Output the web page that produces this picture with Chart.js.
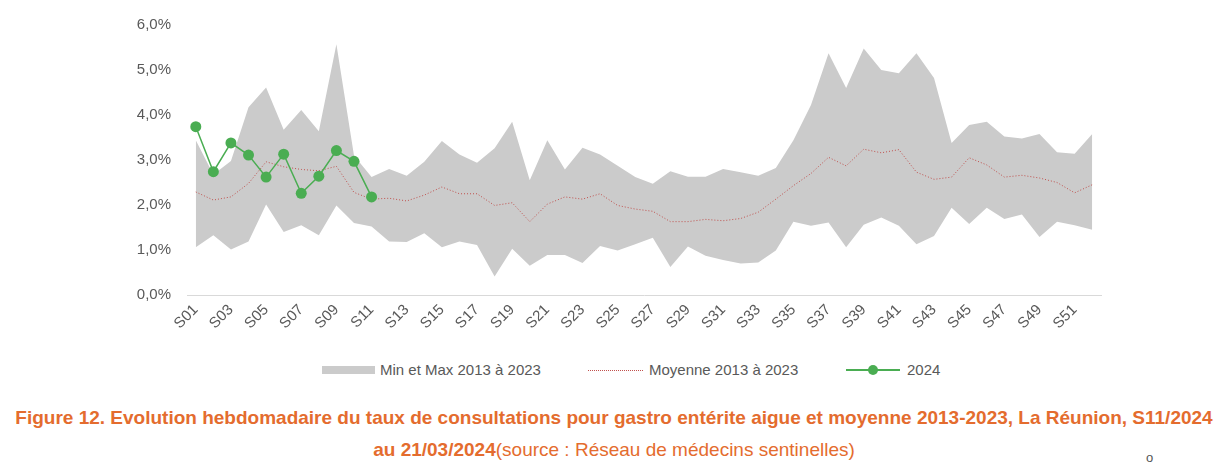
<!DOCTYPE html>
<html lang="fr">
<head>
<meta charset="UTF-8">
<title>Gastro-entérite La Réunion</title>
<script src="https://cdn.jsdelivr.net/npm/chart.js"></script>
<style>
  body { margin: 0; background: #fff; width: 1228px; height: 466px; position: relative; overflow: hidden;
         font-family: "Liberation Sans", Arial, sans-serif; }
  #wrap { position: absolute; left: 0; top: 0; width: 1228px; height: 350px; }
  .leg { position: absolute; font-size: 15px; line-height: 18px; top: 361px; color: #595959; white-space: nowrap; }
  .titre { position: absolute; left: 0; width: 1228px; text-align: center; color: #E46C2E;
           font-size: 19px; line-height: 22px; white-space: nowrap; }
  .titre b { font-weight: bold; }
</style>
</head>
<body>
<div id="wrap"><canvas id="graph" width="1228" height="350"></canvas></div>

<div style="position:absolute;left:322px;top:366px;width:53px;height:8px;background:#cbcbcb"></div>
<div class="leg" style="left:380px">Min et Max 2013 à 2023</div>
<div style="position:absolute;left:588px;top:370px;width:55px;border-top:1px dotted #c0504d"></div>
<div class="leg" style="left:649px">Moyenne 2013 à 2023</div>
<div style="position:absolute;left:846px;top:369px;width:54px;height:1.5px;background:#4aad52"></div>
<div style="position:absolute;left:868px;top:365px;width:10px;height:10px;border-radius:50%;background:#4aad52"></div>
<div class="leg" style="left:907px">2024</div>

<div class="titre" style="top:407px"><b>Figure 12. Evolution hebdomadaire du taux de consultations pour gastro entérite aigue et moyenne 2013-2023, La Réunion, S11/2024</b></div>
<div class="titre" style="top:439px"><b>au 21/03/2024</b>(source : Réseau de médecins sentinelles)</div>
<div style="position:absolute;left:1146px;top:451px;font-size:13px;line-height:14px;color:#555">o</div>

<script>
const semaines = [];
for (let i = 1; i <= 52; i++) semaines.push('S' + String(i).padStart(2, '0'));

const maxi = [3.44, 2.68, 2.98, 4.17, 4.61, 3.67, 4.11, 3.64, 5.57, 3.10, 2.62, 2.80, 2.65,
  2.96, 3.42, 3.12, 2.94, 3.26, 3.85, 2.55, 3.44, 2.79, 3.27, 3.12, 2.87, 2.62,
  2.47, 2.75, 2.63, 2.63, 2.80, 2.73, 2.65, 2.82, 3.44, 4.22, 5.37, 4.60, 5.48,
  5.00, 4.93, 5.37, 4.82, 3.38, 3.78, 3.85, 3.52, 3.48, 3.58, 3.17, 3.14, 3.58];

const mini = [1.06, 1.33, 1.01, 1.19, 2.01, 1.40, 1.55, 1.33, 1.99, 1.60, 1.52, 1.19, 1.18,
  1.37, 1.06, 1.19, 1.11, 0.41, 1.03, 0.65, 0.89, 0.89, 0.71, 1.09, 0.99, 1.13,
  1.27, 0.62, 1.08, 0.87, 0.78, 0.70, 0.72, 0.99, 1.63, 1.54, 1.61, 1.06, 1.56,
  1.72, 1.54, 1.13, 1.31, 1.94, 1.58, 1.94, 1.69, 1.79, 1.29, 1.63, 1.55, 1.45];

const moyenne = [2.29, 2.11, 2.18, 2.48, 2.96, 2.85, 2.79, 2.76, 2.86, 2.28, 2.13, 2.15, 2.09,
  2.22, 2.40, 2.25, 2.25, 1.99, 2.05, 1.63, 2.02, 2.18, 2.13, 2.25, 1.99, 1.91,
  1.86, 1.63, 1.63, 1.68, 1.65, 1.70, 1.84, 2.13, 2.43, 2.70, 3.06, 2.87, 3.24,
  3.16, 3.23, 2.73, 2.57, 2.62, 3.05, 2.89, 2.62, 2.66, 2.60, 2.50, 2.27, 2.45];

const an2024 = [3.74, 2.74, 3.38, 3.11, 2.62, 3.13, 2.26, 2.64, 3.21, 2.97, 2.18];

const gris = '#595959';

new Chart(document.getElementById('graph'), {
  type: 'line',
  data: {
    labels: semaines,
    datasets: [
      {
        label: '2024',
        data: an2024,
        borderColor: '#4aad52',
        backgroundColor: '#4aad52',
        borderWidth: 1.5,
        pointRadius: 5.5,
        pointBorderWidth: 0,
        pointBackgroundColor: '#4aad52',
        fill: false,
        tension: 0
      },
      {
        label: 'Moyenne 2013 à 2023',
        data: moyenne,
        borderColor: '#c0504d',
        borderWidth: 1,
        borderDash: [1, 2],
        pointRadius: 0,
        fill: false,
        tension: 0
      },
      {
        label: 'Min et Max 2013 à 2023',
        data: maxi,
        borderWidth: 0,
        borderColor: 'rgba(0,0,0,0)',
        backgroundColor: '#cbcbcb',
        pointRadius: 0,
        fill: '+1',
        tension: 0
      },
      {
        label: 'min',
        data: mini,
        borderWidth: 0,
        borderColor: 'rgba(0,0,0,0)',
        pointRadius: 0,
        fill: false,
        tension: 0
      }
    ]
  },
  options: {
    responsive: false,
    animation: false,
    layout: { padding: { left: 0, right: 127, top: 13, bottom: 0 } },
    plugins: { legend: { display: false }, tooltip: { enabled: false } },
    scales: {
      x: {
        offset: true,
        grid: { display: false, drawTicks: false },
        border: { display: true, color: '#d9d9d9', width: 1 },
        ticks: {
          autoSkip: false,
          maxRotation: 45,
          minRotation: 45,
          padding: 6,
          color: gris,
          font: { family: 'Liberation Sans', size: 15 },
          callback: function (v, i) { return i % 2 === 0 ? this.getLabelForValue(v) : ''; }
        },
        afterFit: (s) => { s.height = 55; }
      },
      y: {
        min: 0,
        max: 6,
        grid: { display: false, drawTicks: false },
        border: { display: false },
        ticks: {
          stepSize: 1,
          padding: 16,
          color: gris,
          font: { family: 'Liberation Sans', size: 15 },
          callback: (v) => v.toFixed(1).replace('.', ',') + '%'
        },
        afterFit: (s) => { s.width = 187; }
      }
    }
  }
});
</script>
</body>
</html>
